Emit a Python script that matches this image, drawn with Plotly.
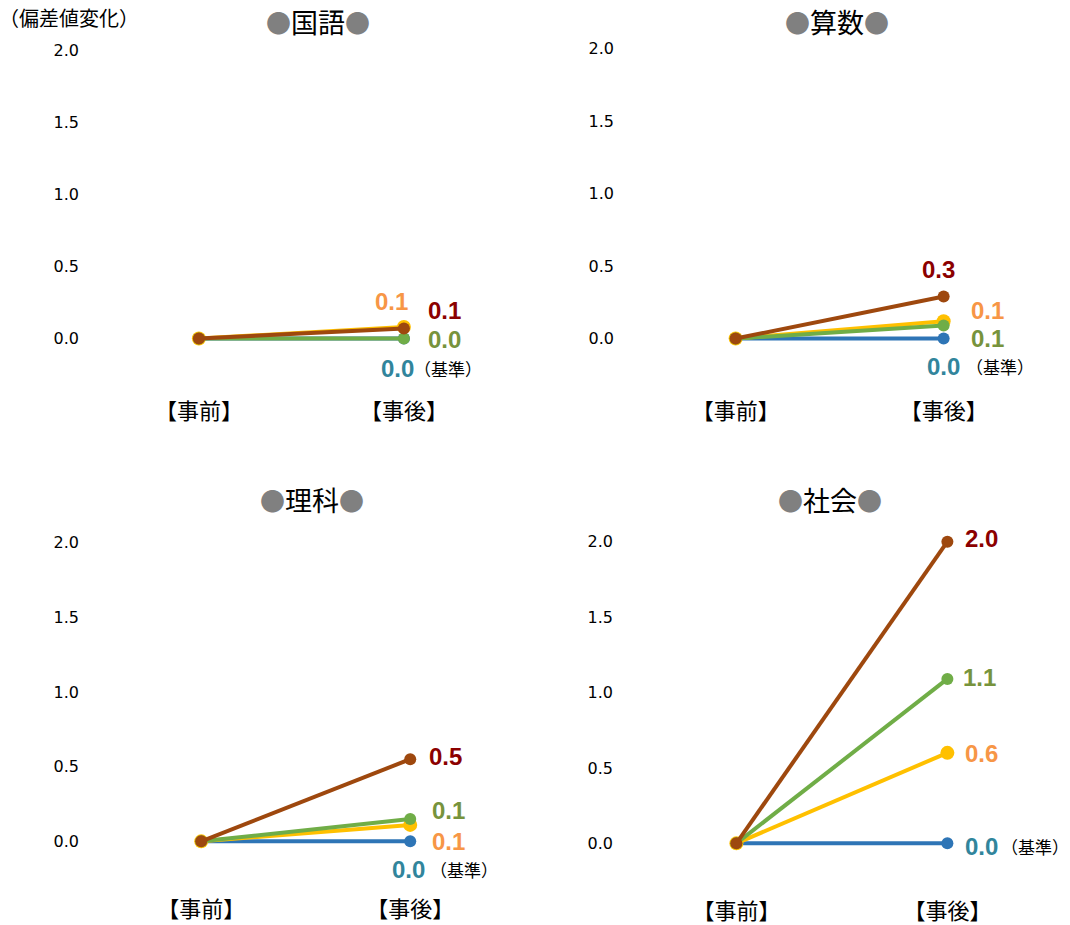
import plotly.graph_objects as go

# ---------------- data ----------------
subjects = ["国語", "算数", "理科", "社会"]
categories = ["事前", "事後"]
category_labels = ["【事前】", "【事後】"]
y_ticks = [0.0, 0.5, 1.0, 1.5, 2.0]

before = [0.0, 0.0, 0.0, 0.0]
blue_after = [0.0, 0.0, 0.0, 0.0]
yellow_after = [0.08, 0.12, 0.11, 0.60]
green_after = [0.0, 0.09, 0.15, 1.09]
brown_after = [0.07, 0.29, 0.55, 2.00]

blue_labels = ["0.0", "0.0", "0.0", "0.0"]
yellow_labels = ["0.1", "0.1", "0.1", "0.6"]
green_labels = ["0.0", "0.1", "0.1", "1.1"]
brown_labels = ["0.1", "0.3", "0.5", "2.0"]
base_note = "（基準）"
y_axis_title = "（偏差値変化）"

# ---------------- style ----------------
W, H = 1070, 925
line_colors = {"blue": "#2E75B6", "yellow": "#FFC000", "green": "#70AD47", "brown": "#9E480E"}
label_colors = {"blue": "#31859C", "yellow": "#F79646", "green": "#77933C", "brown": "#8B0000"}
CJK = "Noto Sans CJK JP"
NUM = "Liberation Sans"
TICKNUM = "DejaVu Sans"

# pixel layout per panel: (left px, px per x unit, zero y px, px per y unit, y range low)
panels = [
    (80, 205, 340, 144.5, -0.40),
    (615, 208, 340, 145.5, -0.40),
    (80, 209, 845, 150.0, -0.35),
    (614, 211, 847, 151.5, -0.35),
]
x_range = [-0.58, 1.55]
y_high = 2.2

# label offsets (xshift, yshift) per panel for each series label and the base note
offsets = [
    {"blue": (-6, -30), "yellow": (-12, 26), "green": (41, -1), "brown": (41, 18), "note": (8, -30)},
    {"blue": (0, -28), "yellow": (44, 11), "green": (44, -13), "brown": (-5, 27), "note": (20, -28)},
    {"blue": (-2, -28), "yellow": (38, -17), "green": (38, 8), "brown": (35, 3), "note": (18, -28)},
    {"blue": (34, -3), "yellow": (34, -1), "green": (32, 1), "brown": (34, 3), "note": (52, -3)},
]
title_pos = [(318, 22), (837, 22), (312, 502), (830, 502)]

fig = go.Figure()
layout = {}
annotations = []

series = [
    ("blue", blue_after, blue_labels, 12),
    ("yellow", yellow_after, yellow_labels, 14),
    ("green", green_after, green_labels, 12),
    ("brown", brown_after, brown_labels, 12),
]

for i, subj in enumerate(subjects):
    n = "" if i == 0 else str(i + 1)
    xa, ya = "x" + n, "y" + n
    left, ux, zero_y, uy, ylow = panels[i]
    x0 = left / W
    x1 = (left + (x_range[1] - x_range[0]) * ux) / W
    bottom_px = zero_y - ylow * uy
    top_px = zero_y - y_high * uy
    y0 = 1 - bottom_px / H
    y1 = 1 - top_px / H

    layout["xaxis" + n] = dict(
        domain=[x0, min(x1, 1.0)], anchor=ya, type="category",
        categoryorder="array", categoryarray=categories,
        range=x_range, showgrid=False, zeroline=False, showline=False,
        tickvals=categories, ticktext=category_labels, ticks="",
        tickfont=dict(family=CJK, size=22, color="#000000"),
    )
    layout["yaxis" + n] = dict(
        domain=[y0, y1], anchor=xa, range=[ylow, y_high],
        showgrid=False, zeroline=False, showline=False,
        tickvals=y_ticks, tickformat=".1f", ticks="",
        tickfont=dict(family=TICKNUM, size=16, color="#000000"),
    )

    for key, vals, labels, msize in series:
        fig.add_trace(go.Scatter(
            x=categories, y=[before[i], vals[i]], mode="lines+markers",
            xaxis=xa, yaxis=ya, showlegend=False,
            line=dict(color=line_colors[key], width=4),
            marker=dict(color=line_colors[key], size=msize),
            cliponaxis=False,
        ))
        dx, dy = offsets[i][key]
        annotations.append(dict(
            x=categories[1], y=vals[i], xref=xa, yref=ya, text="<b>%s</b>" % labels[i],
            showarrow=False, xshift=dx, yshift=dy,
            font=dict(family=NUM, size=24, color=label_colors[key]),
        ))
    ndx, ndy = offsets[i]["note"]
    annotations.append(dict(
        x=categories[1], y=blue_after[i], xref=xa, yref=ya, text=base_note,
        showarrow=False, xshift=ndx, yshift=ndy, xanchor="left",
        font=dict(family=CJK, size=17, color="#000000"),
    ))
    tx, ty = title_pos[i]
    annotations.append(dict(
        x=tx / W, y=1 - ty / H, xref="paper", yref="paper", showarrow=False,
        xanchor="center", yanchor="middle",
        text="<span style='color:#808080;font-size:25px'>●</span>%s<span style='color:#808080;font-size:25px'>●</span>" % subj,
        font=dict(family=CJK, size=27, color="#000000"),
    ))

annotations.append(dict(
    x=0, y=1 - 18 / H, xref="paper", yref="paper", showarrow=False,
    xanchor="left", yanchor="middle", xshift=-3, text=y_axis_title,
    font=dict(family=CJK, size=20, color="#000000"),
))

fig.update_layout(
    width=W, height=H, margin=dict(l=0, r=0, t=0, b=0),
    paper_bgcolor="#FFFFFF", plot_bgcolor="#FFFFFF",
    annotations=annotations, **layout,
)

fig.write_html("out.html")
